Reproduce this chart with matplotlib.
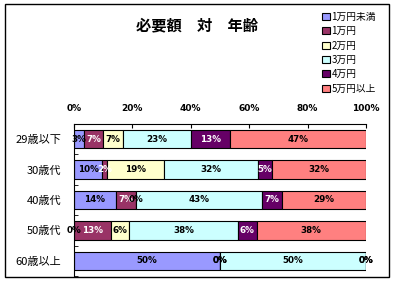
import numpy as np
import matplotlib
matplotlib.use("Agg")
from matplotlib import pyplot as plt
from matplotlib.patches import Rectangle

plt.rcParams['font.family'] = ['Noto Sans CJK JP', 'DejaVu Sans']

ages = ["29歳以下", "30歳代", "40歳代", "50歳代", "60歳以上"]
series = ["1万円未満", "1万円", "2万円", "3万円", "4万円", "5万円以上"]
colors = ["#9999FF", "#993366", "#FFFFCC", "#CCFFFF", "#660066", "#FF8080"]
text_colors = ["black", "white", "black", "black", "white", "black"]

# share (%) per age group, one list per series
under_1 = [3.3, 9.7, 14.3, 0.0, 50.0]
man_1 = [6.7, 1.6, 7.1, 12.5, 0.0]
man_2 = [6.7, 19.4, 0.0, 6.25, 0.0]
man_3 = [23.3, 32.3, 42.9, 37.5, 50.0]
man_4 = [13.3, 4.8, 7.1, 6.25, 0.0]
over_5 = [46.7, 32.3, 28.6, 37.5, 0.0]
values = [under_1, man_1, man_2, man_3, man_4, over_5]

W, H = 395, 281
fig = plt.figure(figsize=(W / 100, H / 100), dpi=100)
ax = fig.add_axes([74 / W, 1 - 276 / H, 292 / W, 152 / H])

y = np.arange(len(ages))
left = np.zeros(len(ages))
for vals, name, col, tcol in zip(values, series, colors, text_colors):
    vals = np.array(vals)
    ax.barh(y, vals, left=left, height=0.6, color=col, edgecolor="black",
            linewidth=0.8, label=name)
    for yi, (l, v) in enumerate(zip(left, vals)):
        ax.text(l + v / 2, yi, f"{int(v + 0.5)}%", ha="center", va="center",
                fontsize=6.3, color=tcol if v > 0 else "black",
                family="DejaVu Sans", fontweight="bold")
    left += vals

ax.set_xlim(0, 100)
ax.set_ylim(len(ages) - 0.5, -0.5)
ax.set_yticks(y)
ax.set_yticklabels(ages, fontsize=8)
ax.set_yticks(np.arange(len(ages)) + 0.5, minor=True)
ax.tick_params(axis="y", which="major", length=0, pad=9)
ax.tick_params(axis="y", which="minor", length=3, direction="in")
ax.xaxis.tick_top()
ax.set_xticks(np.arange(0, 101, 20))
ax.set_xticklabels([f"{v}%" for v in range(0, 101, 20)], fontsize=6.5,
                   fontweight="bold", family="DejaVu Sans")
ax.tick_params(axis="x", length=3, direction="in", pad=8)
ax.spines["right"].set_visible(False)
ax.spines["bottom"].set_visible(False)

fig.text(197 / W, 1 - 25 / H, "必要額　対　年齢", ha="center", va="center",
         fontsize=11, fontweight="bold")

handles, labels = ax.get_legend_handles_labels()
fig.legend(handles, labels, loc="upper left", bbox_to_anchor=(315 / W, 1 - 5 / H),
           frameon=False, fontsize=7, handlelength=0.8, handleheight=0.7,
           handletextpad=0.2, labelspacing=0.45, borderpad=0.2)

fig.patches.append(Rectangle((5 / W, 1 - 277 / H), 384 / W, 273 / H,
                             transform=fig.transFigure, fill=False,
                             edgecolor="black", linewidth=1))

fig.savefig("out.png", dpi=100)
